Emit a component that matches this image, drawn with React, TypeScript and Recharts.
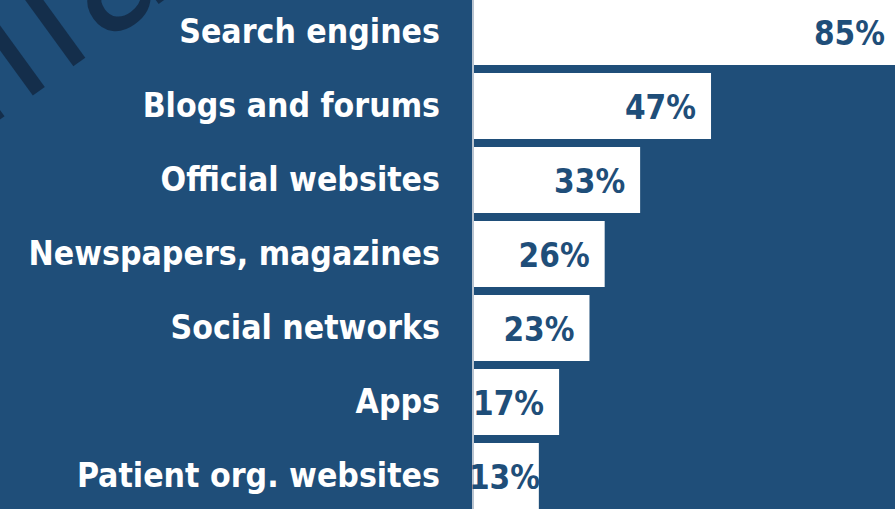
import { BarChart, Bar, XAxis, YAxis, LabelList } from "recharts";

const categories = [
  "Search engines",
  "Blogs and forums",
  "Official websites",
  "Newspapers, magazines",
  "Social networks",
  "Apps",
  "Patient org. websites",
];
const shares = [85, 47, 33, 26, 23, 17, 13];

const data = categories.map((name, i) => ({ name, share: shares[i] }));

const BG = "#1F4E79";
const FONT = "'DejaVu Sans Condensed', 'DejaVu Sans', sans-serif";

function CategoryTick(props: any) {
  const { y, payload } = props;
  return (
    <text x={440} y={y} dy={11} textAnchor="end" fill="#ffffff" fontFamily={FONT} fontWeight="bold" fontSize={33.5}>
      {payload.value}
    </text>
  );
}

function ValueLabel(props: any) {
  const { x, y, width, height, value } = props;
  // keep inside the visible area; never start left of the bar
  const right = Math.min(Math.max(x + width - 15, x + 67), 885);
  return (
    <text x={right} y={y + height / 2} dy={12.5} textAnchor="end" fill={BG} fontFamily={FONT} fontWeight="bold" fontSize={33}>
      {value}%
    </text>
  );
}

export default function App() {
  return (
    <div style={{ position: "fixed", top: 0, left: 0, width: 895, height: 509, overflow: "hidden", background: BG }}>
      <svg width={895} height={509} style={{ position: "absolute", top: 0, left: 0 }}>
        <text
          x={-20}
          y={134}
          transform="rotate(-36, -20, 134)"
          fill="#142e4b"
          fontFamily="'DejaVu Sans', sans-serif"
          fontSize={165}
          letterSpacing={4}
        >
          illa
        </text>
      </svg>
      <div style={{ position: "absolute", top: -5, left: 0 }}>
        <BarChart
          width={905}
          height={518}
          data={data}
          layout="vertical"
          margin={{ top: 0, right: 0, bottom: 0, left: 0 }}
          barCategoryGap={8}
        >
          <XAxis type="number" hide domain={[0, 85.3]} />
          <YAxis
            type="category"
            dataKey="name"
            width={473}
            axisLine={{ stroke: "#b9c4d0", strokeWidth: 2 }}
            tickLine={false}
            tick={<CategoryTick />}
          />
          <Bar dataKey="share" fill="#ffffff" barSize={66} isAnimationActive={false}>
            <LabelList dataKey="share" content={<ValueLabel />} />
          </Bar>
        </BarChart>
      </div>
    </div>
  );
}
